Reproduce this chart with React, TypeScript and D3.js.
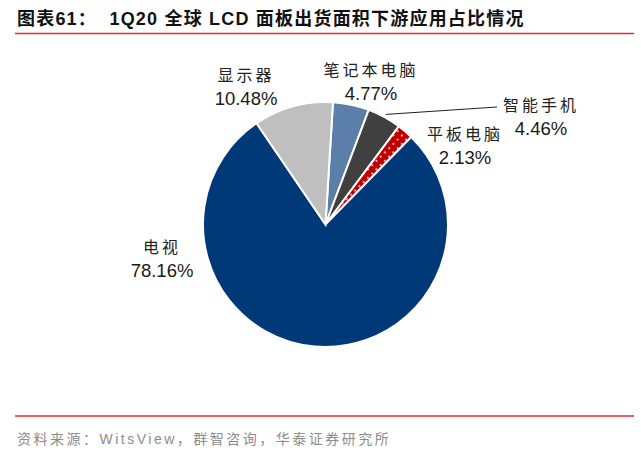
import * as d3 from 'd3'

// ─── Data ─────────────────────────────────────────────────────────────────────

const categories = ['笔记本电脑', '智能手机', '平板电脑', '电视', '显示器']
const shares = [4.77, 4.46, 2.13, 78.16, 10.48]
const sliceColors = ['#5b7fa8', '#404040', 'url(#dots)', '#003978', '#bfbfbf']

// label anchor points (centre of the two-line label), dragged by hand in the original
const labelPos: [number, number][] = [
  [371, 82],
  [541, 117],
  [465, 146],
  [162, 259],
  [246, 87],
]

const title = '图表61：  1Q20 全球 LCD 面板出货面积下游应用占比情况'
const source = '资料来源：WitsView，群智咨询，华泰证券研究所'

// ─── Layout ───────────────────────────────────────────────────────────────────

const W = 641
const H = 458
const cx = 325.5
const cy = 224.5
const R = 122.5
const start = (3.5 * Math.PI) / 180

const font = '"Liberation Sans", Arial, "Noto Sans CJK SC", sans-serif'
const cjk = '"Noto Sans CJK SC", sans-serif'

export default function App() {
  const pie = d3
    .pie<number>()
    .sort(null)
    .value((d) => d)
    .startAngle(start)
    .endAngle(start + Math.PI * 2)
  const arcs = pie(shares)
  const arc = d3.arc<d3.PieArcDatum<number>>().innerRadius(0).outerRadius(R)

  // leader for 智能手机
  const phone = arcs[1]
  const mid = (phone.startAngle + phone.endAngle) / 2
  const lx0 = cx + Math.sin(mid) * (R + 3)
  const ly0 = cy - Math.cos(mid) * (R + 3)

  return (
    <svg
      width={W}
      height={H}
      viewBox={`0 0 ${W} ${H}`}
      style={{ position: 'absolute', left: 0, top: 0, display: 'block', background: '#fff' }}
    >
      <defs>
        <pattern id="dots" width="6" height="6" patternUnits="userSpaceOnUse" patternTransform="rotate(45)">
          <rect width="6" height="6" fill="#c00000" />
          <circle cx="3" cy="3" r="0.9" fill="#ffffff" />
        </pattern>
      </defs>

      {/* title */}
      <text
        x={17}
        y={25}
        fontFamily={font}
        fontWeight="bold"
        fontSize={18}
        letterSpacing={1.2}
        fill="#111"
        style={{ whiteSpace: 'pre' }}
      >
        {title}
      </text>
      <line x1={15} x2={634} y1={33.5} y2={33.5} stroke="#e8262b" strokeWidth={1.5} />

      {/* pie */}
      <g transform={`translate(${cx},${cy})`}>
        {arcs.map((a, i) => (
          <path key={categories[i]} d={arc(a)!} fill={sliceColors[i]} stroke="#fff" strokeWidth={2} />
        ))}
      </g>

      <line x1={lx0} y1={ly0} x2={497} y2={107} stroke="#222" strokeWidth={1} />

      {/* labels */}
      {categories.map((c, i) => (
        <g key={c}>
          <text
            x={labelPos[i][0]}
            y={labelPos[i][1] - 6}
            textAnchor="middle"
            fontFamily={cjk}
            fontSize={16}
            letterSpacing={3}
            fill="#222"
          >
            {c}
          </text>
          <text
            x={labelPos[i][0]}
            y={labelPos[i][1] + 18}
            textAnchor="middle"
            fontFamily={font}
            fontSize={18.5}
            fill="#1a1a1a"
          >
            {`${shares[i].toFixed(2)}%`}
          </text>
        </g>
      ))}

      {/* footer */}
      <line x1={15} x2={634} y1={416} y2={416} stroke="#e8262b" strokeWidth={1.5} />
      <text x={17} y={444} fontFamily={font} fontSize={14} letterSpacing={2.5} fill="#8c8c8c">
        {source}
      </text>
    </svg>
  )
}
